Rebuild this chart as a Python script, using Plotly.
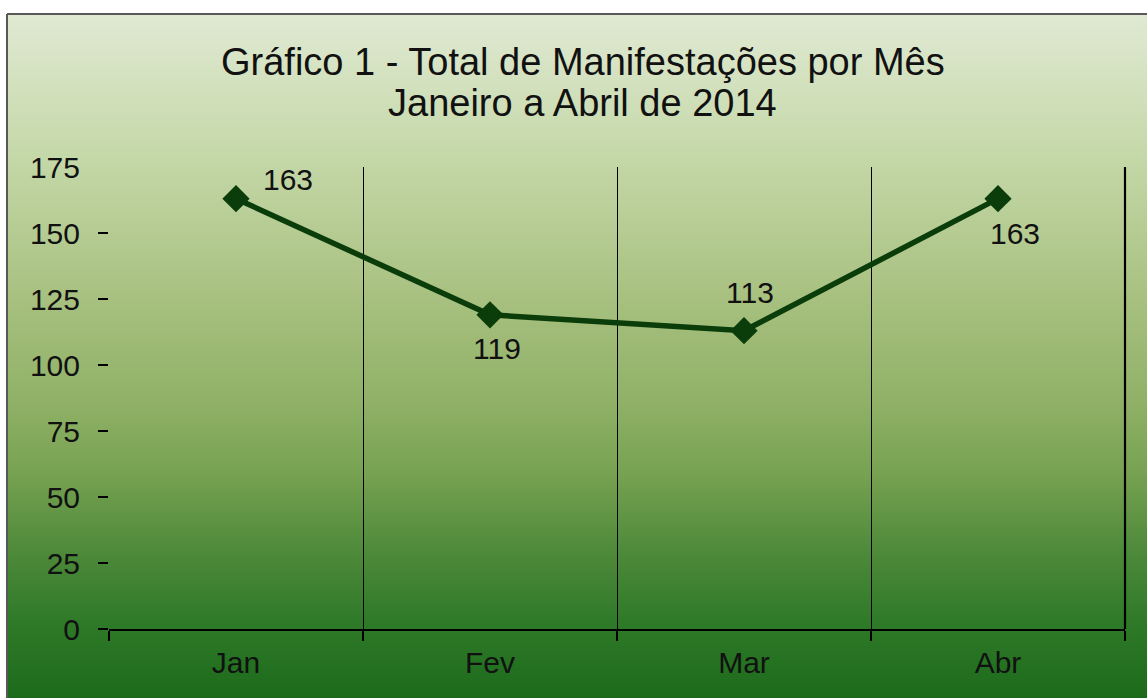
import base64, struct, zlib
import plotly.graph_objects as go

# ---- data ----
months = ["Jan", "Fev", "Mar", "Abr"]
totals = [163, 119, 113, 163]
y_ticks = [0, 25, 50, 75, 100, 125, 150, 175]
title_line1 = "Gráfico 1 - Total de Manifestações por Mês"
title_line2 = "Janeiro a Abril de 2014"

# ---- layout geometry (pixels) ----
W, H = 1147, 698
L, R, T, B = 109, 1125, 167, 629


def px_x(x):
    return (x - L) / (R - L)


def px_y(y):
    return (B - y) / (B - T)


# ---- gradient background as PNG data URI ----
stops = [(14, (224, 233, 211)), (150, (198, 217, 170)), (300, (167, 192, 127)),
         (400, (144, 177, 103)), (470, (120, 163, 82)), (550, (78, 138, 58)),
         (620, (47, 122, 41)), (698, (28, 107, 27))]


def grad_color(y):
    for (y0, c0), (y1, c1) in zip(stops[:-1], stops[1:]):
        if y0 <= y <= y1:
            t = (y - y0) / (y1 - y0)
            return tuple(int(round(a + (b - a) * t)) for a, b in zip(c0, c1))
    return stops[-1][1] if y > stops[-1][0] else stops[0][1]


def make_png(w, h, rowfunc):
    raw = b""
    for j in range(h):
        c = rowfunc(j)
        raw += b"\x00" + bytes(c) * w

    def chunk(tag, data):
        return struct.pack(">I", len(data)) + tag + data + struct.pack(">I", zlib.crc32(tag + data) & 0xffffffff)

    png = b"\x89PNG\r\n\x1a\n"
    png += chunk(b"IHDR", struct.pack(">IIBBBBB", w, h, 8, 2, 0, 0, 0))
    png += chunk(b"IDAT", zlib.compress(raw, 9))
    png += chunk(b"IEND", b"")
    return "data:image/png;base64," + base64.b64encode(png).decode()


top_px, bot_px = 14, 698
grad_uri = make_png(4, bot_px - top_px, lambda j: grad_color(top_px + j))

FONT = "Liberation Sans, Arial, sans-serif"

fig = go.Figure()
fig.add_trace(go.Scatter(
    x=months, y=totals, mode="lines+markers",
    line=dict(color="#0b3d0b", width=5.5),
    marker=dict(symbol="diamond", size=21, color="#0b3d0b"),
    hoverinfo="x+y", showlegend=False, cliponaxis=False,
))

# data labels (offsets relative to points)
label_shift = [(52, 19), (7, -34), (6, 38), (17, -35)]
for m, v, (dx, dy) in zip(months, totals, label_shift):
    fig.add_annotation(x=m, y=v, text=str(v), showarrow=False,
                       xshift=dx, yshift=dy, xanchor="center", yanchor="middle",
                       font=dict(family=FONT, size=30, color="#111111"))

# titles
fig.add_annotation(xref="paper", yref="paper", x=px_x(583), y=px_y(62), text=title_line1,
                   showarrow=False, xanchor="center", yanchor="middle",
                   font=dict(family=FONT, size=38, color="#111111"))
fig.add_annotation(xref="paper", yref="paper", x=px_x(582), y=px_y(103), text=title_line2,
                   showarrow=False, xanchor="center", yanchor="middle",
                   font=dict(family=FONT, size=38, color="#111111"))

border = dict(color="#585858", width=2)
fig.update_layout(
    width=W, height=H,
    margin=dict(l=L, r=W - R, t=T, b=H - B, pad=0),
    paper_bgcolor="white", plot_bgcolor="rgba(0,0,0,0)",
    font=dict(family=FONT, color="#111111"),
    images=[dict(source=grad_uri, xref="paper", yref="paper",
                 x=px_x(7), y=px_y(top_px), sizex=px_x(W + 5) - px_x(7),
                 sizey=px_y(top_px) - px_y(bot_px), sizing="stretch",
                 xanchor="left", yanchor="top", layer="below")],
    shapes=[dict(type="line", xref="paper", yref="paper",
                 x0=px_x(7), x1=px_x(7), y0=px_y(14), y1=px_y(H + 5),
                 line=border, layer="above"),
            dict(type="line", xref="paper", yref="paper",
                 x0=px_x(7), x1=px_x(W + 5), y0=px_y(14), y1=px_y(14),
                 line=border, layer="above"),
            dict(type="line", xref="paper", yref="paper", x0=1, x1=1, y0=0,
                 y1=1, line=dict(color="black", width=2.2), layer="above")],
    xaxis=dict(type="category", categoryorder="array", categoryarray=months,
               range=[-0.5, 3.5], showline=True, linecolor="black", linewidth=1.5,
               tickson="boundaries", ticks="outside", ticklen=10, tickwidth=1.5,
               tickcolor="black", showgrid=True, gridcolor="black", gridwidth=1.2,
               zeroline=False, ticklabelstandoff=6,
               tickfont=dict(family=FONT, size=30, color="#111111")),
    yaxis=dict(range=[0, 175], tickvals=y_ticks, ticks="", showgrid=False,
               zeroline=False, showline=False, ticklabelstandoff=28,
               minor=dict(tickvals=y_ticks[:-1], ticks="outside", ticklen=10,
                          tickwidth=1.5, tickcolor="black", showgrid=False),
               tickfont=dict(family=FONT, size=30, color="#111111")),
)

fig.write_html("out.html", config={"displayModeBar": False},
               post_script="document.body.style.margin='0';document.body.style.overflow='hidden';")
